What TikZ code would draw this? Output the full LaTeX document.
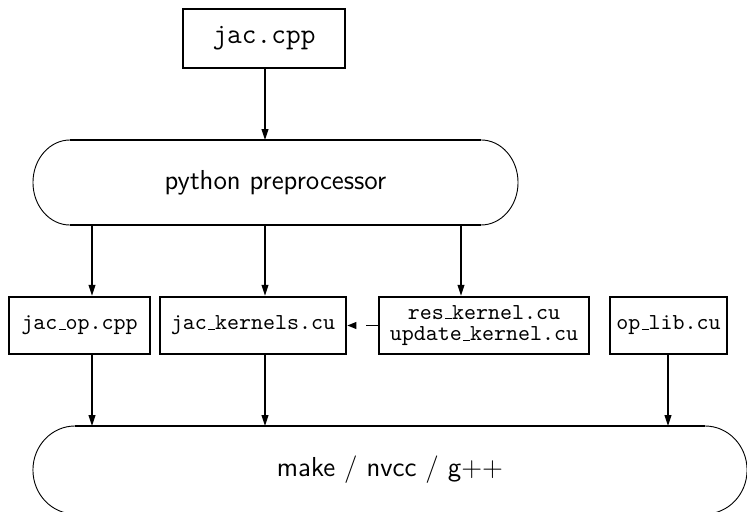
\documentclass[tikz,border=0pt]{standalone}
\usetikzlibrary{arrows.meta}
% low, short underscore as in plain TeX's \_
\newcommand\lowus{\leavevmode\kern.06em\vbox{\hrule height 0.5pt width .3em}}
\begin{document}
\begin{tikzpicture}[x=0.4375pt, y=-0.4375pt,
  filebox/.style={draw, line width=1.1pt, inner sep=0pt, font=\ttfamily,
                  minimum height=24.9pt, align=center},
  toolbox/.style={inner sep=0pt, font=\sffamily\fontsize{12}{14}\selectfont},
  flatedge/.style={line width=0.9pt},
  roundedge/.style={line width=0.4pt},
  arr/.style={line width=0.6pt, -{Triangle[length=4.8pt, width=3pt]}},
  darr/.style={line width=0.6pt, dash pattern=on 5.25pt off 5pt,
               -{Triangle[length=4pt, width=3pt]}}]
  \useasboundingbox (0,0) rectangle (747,512);
  \clip (0,0) rectangle (747,512);

  % x positions of the vertical connectors
  \coordinate (c1) at (92,0);
  \coordinate (c2) at (265,0);
  \coordinate (c3) at (461,0);
  \coordinate (c4) at (668,0);

  % source file
  \node[filebox, minimum width=70.9pt, minimum height=25.8pt,
        font=\ttfamily\fontsize{12.5}{15}\selectfont] (jac) at (264,38.5) {jac.cpp};

  % preprocessor stage
  \node[toolbox] (pre) at (275.5,182.5) {python preprocessor};
  \draw[flatedge] (70,140) -- (481,140);
  \draw[flatedge] (70,225) -- (481,225);
  \draw[roundedge] (70,140) arc[start angle=90, end angle=270, x radius=16.2pt, y radius=18.6pt];
  \draw[roundedge] (481,225) arc[start angle=-90, end angle=90, x radius=16.2pt, y radius=18.6pt];
  \coordinate (preN) at (0,140);
  \coordinate (preS) at (0,225);

  % generated and library sources
  \node[filebox, minimum width=61.7pt] (jacop) at (79.5,325.5) {jac\lowus op.cpp};
  \node[filebox, minimum width=81.4pt] (jackern) at (253,325.5) {jac\lowus kernels.cu};
  \node[filebox, minimum width=91.9pt,
        font=\ttfamily\fontsize{10}{9.4}\selectfont] (reskern) at (484,325.5)
        {res\lowus kernel.cu\\update\lowus kernel.cu};
  \node[filebox, minimum width=51.2pt] (oplib) at (668.5,325.5) {op\lowus lib.cu};

  % build stage
  \node[toolbox] (make) at (390,470) {make / nvcc / g++};
  \draw[flatedge] (75,426) -- (705,426);
  \draw[flatedge] (75,514) -- (705,514);
  \draw[roundedge] (75,426) arc[start angle=90, end angle=270, x radius=18.4pt, y radius=19.25pt];
  \draw[roundedge] (705,514) arc[start angle=-90, end angle=90, x radius=18.4pt, y radius=19.25pt];
  \coordinate (makeN) at (0,426);

  % connectors
  \draw[arr] (jac.south -| c2) -- (preN -| c2);
  \draw[arr] (preS -| c1) -- (jacop.north -| c1);
  \draw[arr] (preS -| c2) -- (jackern.north -| c2);
  \draw[arr] (preS -| c3) -- (reskern.north -| c3);
  \draw[darr] (reskern.west) -- (jackern.east);
  \draw[arr] (jacop.south -| c1) -- (makeN -| c1);
  \draw[arr] (jackern.south -| c2) -- (makeN -| c2);
  \draw[arr] (oplib.south -| c4) -- (makeN -| c4);
\end{tikzpicture}
\end{document}
